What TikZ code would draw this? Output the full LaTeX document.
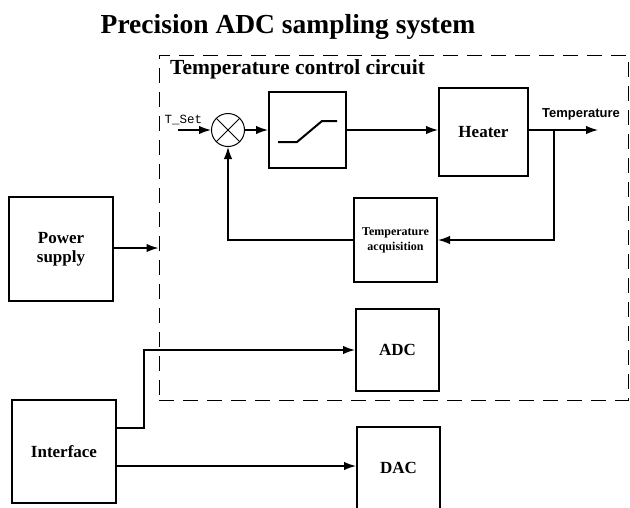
\documentclass[tikz,border=0pt]{standalone}
\usepackage{fontspec}
\setmainfont{Liberation Serif}
\setsansfont{Liberation Sans}
\setmonofont{Liberation Mono}
\tikzstyle{block}=[rectangle,draw=black,line width=2pt,font=\bfseries\fontsize{17}{19}\selectfont,align=center]
\tikzstyle{smallblock}=[block,font=\bfseries\fontsize{12}{15}\selectfont]
\tikzstyle{sumpt}=[circle,draw=black,line width=1pt,minimum size=33pt,inner sep=0pt]
\tikzstyle{frame}=[rectangle,draw=black,line width=1pt,dash pattern=on 15pt off 9pt]
\tikzstyle{wire}=[line width=1.4pt]
\usetikzlibrary{arrows,arrows.meta,positioning,shapes}

\begin{document}
\begin{tikzpicture}[x=1pt,y=-1pt,>={Latex[length=12pt,width=8.5pt]}]
            \useasboundingbox (0,0) rectangle (630,507);
            \clip (0,0) rectangle (630,507);

            % TITLE
            \node[anchor=base,font=\bfseries\fontsize{27.5}{30}\selectfont] (title) at (288,33) {Precision ADC sampling system};

            % CONTROL LOOP
            \node[frame,minimum width=469pt,minimum height=345pt] (ctrl) at (393.5,227.5) {};
            \node[anchor=base west,inner sep=0pt,font=\bfseries\fontsize{21.5}{24}\selectfont] (ctrltitle) at (170,74) {Temperature control circuit};

            \node[sumpt] (sum) at (228,130) {};
            \draw[line width=1pt] (sum.north west) -- (sum.south east);
            \draw[line width=1pt] (sum.north east) -- (sum.south west);
            \coordinate (tin) at (178,130);
            \node[anchor=base,font=\ttfamily\fontsize{12.5}{13}\selectfont,inner sep=0pt] (tset) at (183.5,123) {T\_Set};

            \node[block,minimum width=77pt,minimum height=76pt] (sat) at (307.5,130) {};
            \draw[line width=2pt] (278,142) -- (297,142) -- (322,121) -- (337,121);

            \node[block,minimum width=89pt,minimum height=88pt] (heater) at (483.5,132) {Heater};
            \coordinate (tout) at (598,130);
            \coordinate (br) at (554,130);
            \node[anchor=base,font=\sffamily\bfseries\fontsize{13}{14}\selectfont,inner sep=0pt] (tlabel) at (581,117) {Temperature};

            \node[smallblock,minimum width=83pt,minimum height=84pt] (acq) at (395.5,240) {Temperature\\acquisition};

            \draw[wire,->] (tin) -- (sum.west);
            \draw[wire,->] (sum.east) -- (sat.west);
            \draw[wire,->] (sat.east) -- (sat.east -| heater.west);
            \draw[wire,->] (sat.east -| heater.east) -- (tout);
            \draw[wire,->] (br) |- (acq.east);
            \draw[wire,->] (acq.west) -| (sum.south);

            % POWER
            \node[block,minimum width=104pt,minimum height=104pt] (power) at (61,249) {Power\\supply};
            \draw[wire,->] ([yshift=1pt]power.east) -- ([yshift=1pt]power.east -| ctrl.west);

            % ADC / DAC
            \node[block,minimum width=83pt,minimum height=82pt] (adc) at (397.5,350) {ADC};
            \node[block,minimum width=83pt,minimum height=82pt] (dac) at (398.5,468) {DAC};
            \node[block,minimum width=104pt,minimum height=103pt] (iface) at (64,451.5) {Interface};

            \draw[wire,->] ([yshift=23.5pt]iface.east) -- ++(27,0) |- (adc.west);
            \draw[wire,->] ([yshift=-14.5pt]iface.east) -- ([yshift=-14.5pt]iface.east -| dac.west);

\end{tikzpicture}
\end{document}
